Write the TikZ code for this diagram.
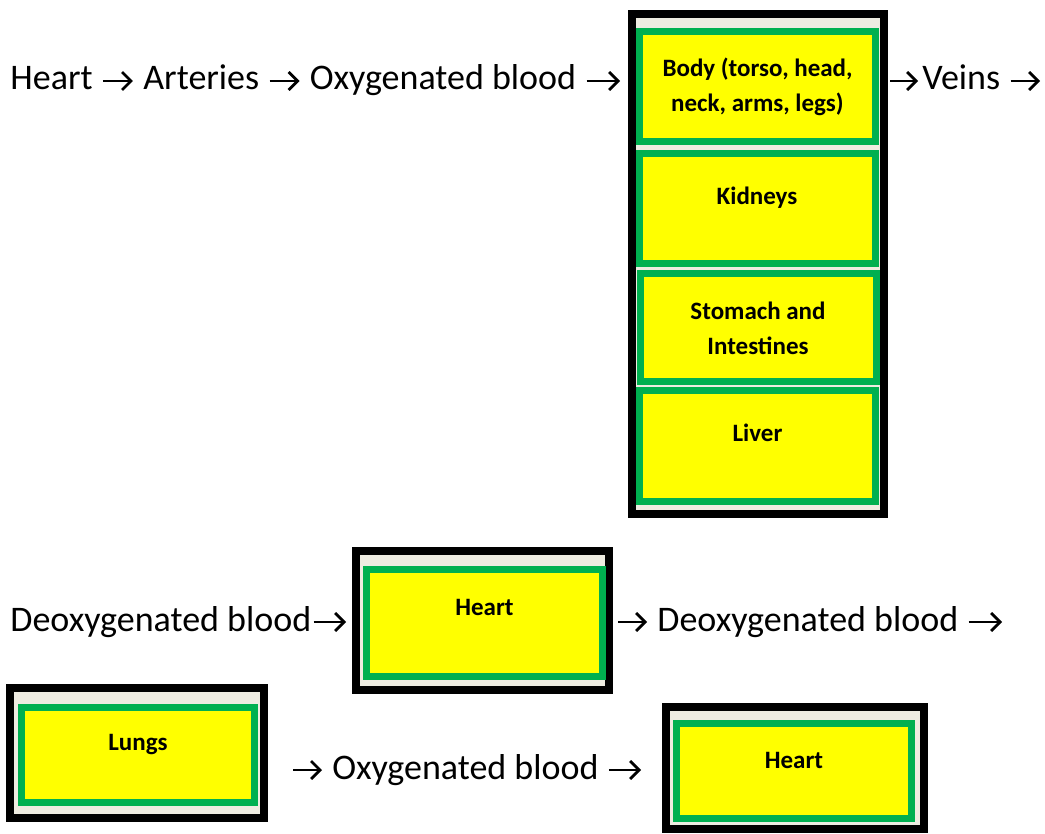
\documentclass[tikz,border=0pt]{standalone}
\usepackage{fontspec}
\setmainfont{Carlito}
\usetikzlibrary{arrows.meta}
\usetikzlibrary{positioning}
\definecolor{organgreen}{HTML}{00B050}
\definecolor{organyellow}{HTML}{FFFF00}
\definecolor{framebeige}{HTML}{EEECE1}

\begin{document}
\begin{tikzpicture}[x=0.5pt, y=-0.5pt, >={Straight Barb[length=4.5pt,width=9pt]}]
  \tikzset{every node/.style={font=\fontsize{18}{21}\selectfont},
    word/.style={inner xsep=5pt, inner ysep=0pt, text height=13pt, text depth=4pt},
    flow/.style={->, line width=1.4pt},
    frame/.style={draw=black, line width=4pt, fill=framebeige},
    organ/.style={draw=organgreen, line width=3.5pt, fill=organyellow, align=center,
      font=\bfseries\fontsize{12.5}{17.5}\selectfont},
    oneline/.style={text depth=13pt}}
  \useasboundingbox (0,0) rectangle (1045,834);

  % first row: out to the body
  \node[word, anchor=west] (heart) at (0,81) {Heart};
  \node[word, right=15pt of heart] (arteries) {Arteries};
  \node[word, right=15pt of arteries] (oxyA) {Oxygenated blood};

  \node[frame, minimum width=126pt, minimum height=250pt] (organs) at (758,264) {};
  \node[organ, minimum width=118pt, minimum height=55pt] (body) at (757.5,86.5)
    {Body (torso, head,\\ neck, arms, legs)};
  \node[organ, oneline, minimum width=118pt, minimum height=55pt] (kidneys) at (757,209) {Kidneys};
  \node[organ, minimum width=118pt, minimum height=54pt] (stomach) at (758,328)
    {Stomach and\\ Intestines};
  \node[organ, oneline, minimum width=118pt, minimum height=55pt] (liver) at (757.5,446) {Liver};

  \node[word, inner xsep=2pt, anchor=west] (veins) at (918,81) {Veins};
  \coordinate (veinsout) at (1040,81);

  \draw[flow] (heart) -- (arteries);
  \draw[flow] (arteries) -- (oxyA);
  \draw[flow, shorten >=4pt] (oxyA) -- (oxyA -| organs.west);
  \draw[flow, shorten <=1pt] (veins.west -| organs.east) -- (veins);
  \draw[flow, shorten <=3pt] (veins) -- (veinsout);

  % second row: back through the heart
  \node[word, inner xsep=1pt, anchor=west] (deoxyA) at (8,622) {Deoxygenated blood};
  \node[frame, minimum width=126.5pt, minimum height=69.5pt] (heartframeA) at (482.5,620.5) {};
  \node[organ, oneline, text depth=16pt, minimum width=118pt, minimum height=53.5pt] (heartA) at (484.5,623) {Heart};
  \node[word, anchor=west] (deoxyB) at (647,622) {Deoxygenated blood};
  \coordinate (deoxyout) at (1002,622);

  \draw[flow, shorten >=3pt] (deoxyA) -- (deoxyA -| heartframeA.west);
  \draw[flow, shorten <=2.5pt] (deoxyB -| heartframeA.east) -- (deoxyB);
  \draw[flow] (deoxyB) -- (deoxyout);

  % third row: lungs and back to the heart
  \node[frame, minimum width=127pt, minimum height=65pt] (lungsframe) at (137,753) {};
  \node[organ, oneline, minimum width=116.5pt, minimum height=47.5pt] (lungs) at (138,755) {Lungs};
  \node[word, anchor=west] (oxyB) at (322,770) {Oxygenated blood};
  \node[frame, minimum width=129pt, minimum height=61pt] (heartframeB) at (795,768) {};
  \node[organ, oneline, text depth=11pt, minimum width=117.5pt, minimum height=47.5pt] (heartB) at (794,771) {Heart};

  \draw[flow, shorten <=12.5pt] (oxyB -| lungsframe.east) -- (oxyB);
  \draw[flow, shorten >=10.5pt] (oxyB) -- (oxyB -| heartframeB.west);
\end{tikzpicture}
\end{document}
